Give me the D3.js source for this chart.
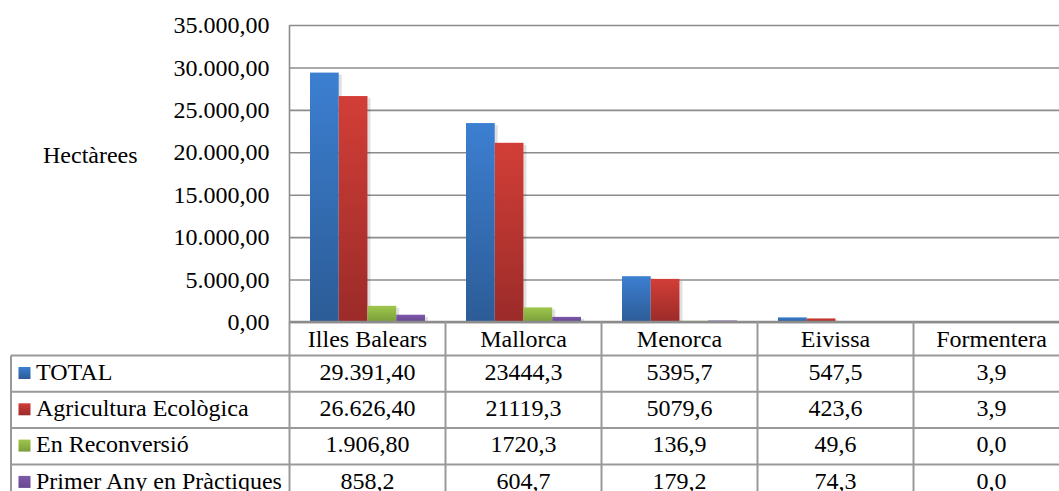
<!DOCTYPE html>
<html>
<head>
<meta charset="utf-8">
<script src="https://cdn.jsdelivr.net/npm/d3@7"></script>
<style>
  body { margin: 0; background: #fff; }
</style>
</head>
<body>
<svg id="chart" width="1059" height="491"></svg>
<script>
// islands (x categories)
const islands = ["Illes Balears", "Mallorca", "Menorca", "Eivissa", "Formentera"];
const seriesNames = ["TOTAL", "Agricultura Ecològica", "En Reconversió", "Primer Any en Pràctiques"];

// values in hectares, one array per series
const total = [29391.4, 23444.3, 5395.7, 547.5, 3.9];
const ecologica = [26626.4, 21119.3, 5079.6, 423.6, 3.9];
const reconversio = [1906.8, 1720.3, 136.9, 49.6, 0.0];
const primerAny = [858.2, 604.7, 179.2, 74.3, 0.0];

// text shown in the data table (as printed)
const totalText = ["29.391,40", "23444,3", "5395,7", "547,5", "3,9"];
const ecologicaText = ["26.626,40", "21119,3", "5079,6", "423,6", "3,9"];
const reconversioText = ["1.906,80", "1720,3", "136,9", "49,6", "0,0"];
const primerAnyText = ["858,2", "604,7", "179,2", "74,3", "0,0"];

const yTicks = [0, 5000, 10000, 15000, 20000, 25000, 30000, 35000];

const seriesValues = [total, ecologica, reconversio, primerAny];
const seriesText = [totalText, ecologicaText, reconversioText, primerAnyText];
const colorsTop = ["#3c7fd1", "#d23e37", "#9ec64c", "#7e58ab"];
const colorsBottom = ["#2c5c97", "#9b2b29", "#7b9e3a", "#65478f"];

const svg = d3.select("#chart");
const FONT = "Liberation Serif";
const fontSize = 24;

const plotLeft = 289.5, plotTop = 25, plotBottom = 322;
const colW = 156;
const rowH = 36.3;
const tableLeft = 11;

const locale = d3.formatLocale({ decimal: ",", thousands: ".", grouping: [3], currency: ["", "€"] });
const fmt = locale.format(",.2f");

// gradients
const defs = svg.append("defs");
seriesNames.forEach((s, i) => {
  const g = defs.append("linearGradient").attr("id", "grad" + i)
    .attr("x1", 0).attr("y1", 0).attr("x2", 0).attr("y2", 1);
  g.append("stop").attr("offset", "0%").attr("stop-color", colorsTop[i]);
  g.append("stop").attr("offset", "100%").attr("stop-color", colorsBottom[i]);
});

// scales
const x = d3.scaleBand()
  .domain(islands)
  .range([plotLeft, plotLeft + colW * islands.length])
  .paddingInner(0).paddingOuter(0);

const xInner = d3.scaleBand()
  .domain(d3.range(seriesNames.length))
  .range([20.5, colW - 20.5])
  .padding(0);

const y = d3.scaleLinear()
  .domain([0, 35000])
  .range([plotBottom, plotTop]);

// gridlines
const grid = svg.append("g")
  .attr("transform", "translate(" + plotLeft + ",0)")
  .call(d3.axisLeft(y).tickValues(yTicks).tickSize(-(1059 - plotLeft + 20)).tickFormat(""));
grid.select(".domain").remove();
grid.selectAll("line").attr("stroke", "#8c8c8c").attr("stroke-width", 1.6);

// y axis labels
const yAxis = svg.append("g")
  .attr("transform", "translate(" + plotLeft + ",0)")
  .call(d3.axisLeft(y).tickValues(yTicks).tickSize(0).tickPadding(20).tickFormat(d => fmt(d)));
yAxis.select(".domain").remove();
yAxis.attr("font-family", FONT).attr("font-size", fontSize);
yAxis.selectAll("text")
  .attr("font-family", FONT)
  .attr("font-size", fontSize)
  .attr("fill", "#000");

// left axis line
svg.append("line")
  .attr("x1", plotLeft).attr("x2", plotLeft)
  .attr("y1", plotTop).attr("y2", plotBottom)
  .attr("stroke", "#8c8c8c").attr("stroke-width", 1.6);

// y title
svg.append("text")
  .attr("x", 43).attr("y", 163)
  .attr("font-family", FONT)
  .attr("font-size", fontSize)
  .text("Hectàrees");

// bars, with a soft shade strip on the right of each one
const groups = svg.append("g").selectAll("g")
  .data(seriesNames)
  .join("g");

groups.selectAll("rect.shade")
  .data((s, i) => seriesValues[i].map((v, j) => ({ island: islands[j], v, s: i })).filter(d => d.v > 0))
  .join("rect")
  .attr("class", "shade")
  .attr("x", d => x(d.island) + xInner(d.s) + xInner.bandwidth())
  .attr("width", 3)
  .attr("y", d => y(d.v) + 2)
  .attr("height", d => Math.max(0, plotBottom - y(d.v) - 2))
  .attr("fill", "#000").attr("opacity", 0.12);

groups.selectAll("rect.bar")
  .data((s, i) => seriesValues[i].map((v, j) => ({ island: islands[j], v, s: i })))
  .join("rect")
  .attr("class", "bar")
  .attr("x", d => x(d.island) + xInner(d.s))
  .attr("width", xInner.bandwidth())
  .attr("y", d => y(d.v))
  .attr("height", d => plotBottom - y(d.v))
  .attr("fill", d => "url(#grad" + d.s + ")");

// table
const tableColor = "#999";
const tableTop = plotBottom;
const headerBottom = tableTop + 33.5;
const tableRight = plotLeft + colW * islands.length;
const rowY = i => headerBottom + rowH * i;

const table = svg.append("g")
  .attr("font-family", FONT)
  .attr("font-size", fontSize);

// header row text
table.selectAll("text.head")
  .data(islands)
  .join("text")
  .attr("class", "head")
  .attr("x", d => x(d) + colW / 2)
  .attr("y", tableTop + 24.7)
  .attr("text-anchor", "middle")
  .attr("font-family", FONT)
  .attr("font-size", fontSize)
  .text(d => d);

// rows
seriesNames.forEach((s, i) => {
  const base = rowY(i) + 24.3;
  table.append("rect")
    .attr("x", 18.5).attr("y", rowY(i) + 11.5)
    .attr("width", 12).attr("height", 12)
    .attr("fill", "url(#grad" + i + ")");
  table.append("text")
    .attr("x", 36).attr("y", base)
    .attr("font-family", FONT)
    .attr("font-size", fontSize)
    .text(s);
  table.selectAll(null)
    .data(seriesText[i])
    .join("text")
    .attr("x", (d, j) => x(islands[j]) + colW / 2)
    .attr("y", base)
    .attr("text-anchor", "middle")
    .attr("font-family", FONT)
    .attr("font-size", fontSize)
    .text(d => d);
});

// table lines
const lw = 2;
table.append("line")
  .attr("x1", plotLeft).attr("x2", tableRight)
  .attr("y1", tableTop).attr("y2", tableTop)
  .attr("stroke", "#8c8c8c").attr("stroke-width", 2.4);
d3.range(seriesNames.length + 1).forEach(i => {
  table.append("line")
    .attr("x1", tableLeft).attr("x2", tableRight)
    .attr("y1", rowY(i)).attr("y2", rowY(i))
    .attr("stroke", tableColor).attr("stroke-width", lw);
});
table.append("line")
  .attr("x1", tableLeft).attr("x2", tableLeft)
  .attr("y1", headerBottom).attr("y2", 500)
  .attr("stroke", tableColor).attr("stroke-width", lw);
islands.concat([null]).forEach((d, j) => {
  const xx = plotLeft + colW * j;
  table.append("line")
    .attr("x1", xx).attr("x2", xx)
    .attr("y1", tableTop).attr("y2", 500)
    .attr("stroke", tableColor).attr("stroke-width", lw);
});
</script>
</body>
</html>
